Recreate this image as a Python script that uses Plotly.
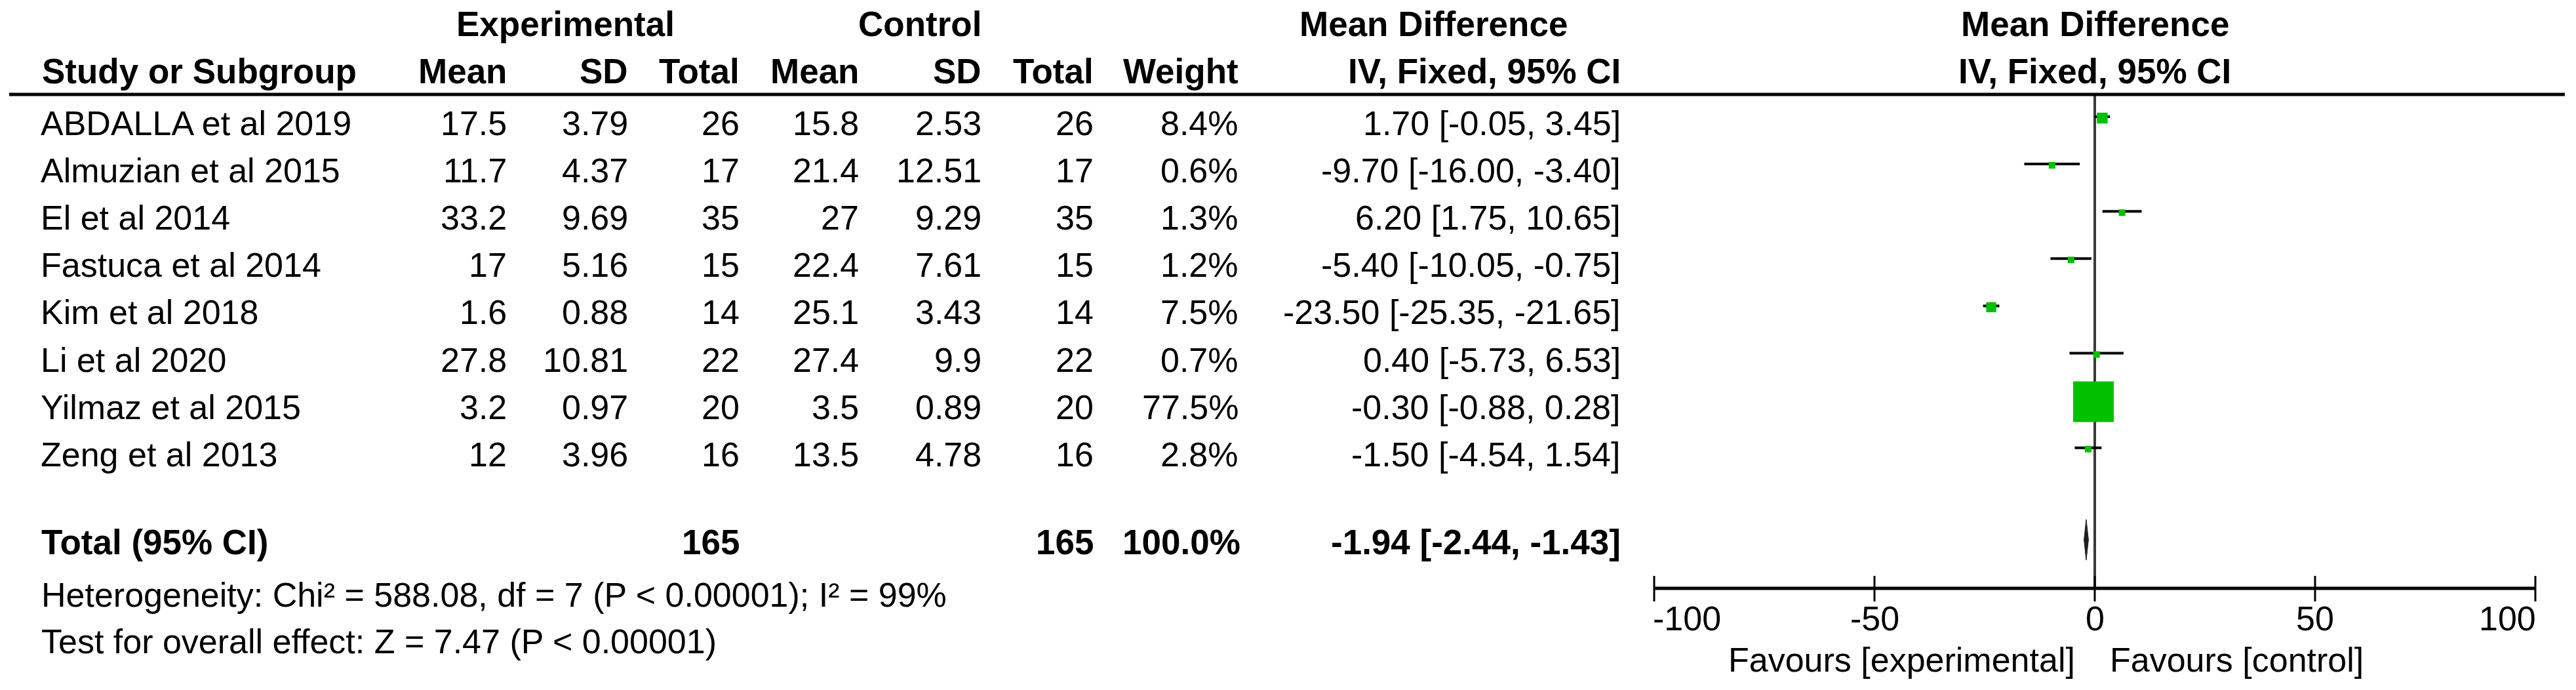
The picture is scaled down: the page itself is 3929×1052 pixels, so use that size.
import plotly.graph_objects as go

# ---------------- data ----------------
studies = ["ABDALLA et al 2019", "Almuzian et al 2015", "El et al 2014", "Fastuca et al 2014",
           "Kim et al 2018", "Li et al 2020", "Yilmaz et al 2015", "Zeng et al 2013"]
exp_mean = [17.5, 11.7, 33.2, 17, 1.6, 27.8, 3.2, 12]
exp_sd = [3.79, 4.37, 9.69, 5.16, 0.88, 10.81, 0.97, 3.96]
exp_n = [26, 17, 35, 15, 14, 22, 20, 16]
ctl_mean = [15.8, 21.4, 27, 22.4, 25.1, 27.4, 3.5, 13.5]
ctl_sd = [2.53, 12.51, 9.29, 7.61, 3.43, 9.9, 0.89, 4.78]
ctl_n = [26, 17, 35, 15, 14, 22, 20, 16]
weight = [8.4, 0.6, 1.3, 1.2, 7.5, 0.7, 77.5, 2.8]
md = [1.70, -9.70, 6.20, -5.40, -23.50, 0.40, -0.30, -1.50]
ci_lo = [-0.05, -16.00, 1.75, -10.05, -25.35, -5.73, -0.88, -4.54]
ci_hi = [3.45, -3.40, 10.65, -0.75, -21.65, 6.53, 0.28, 1.54]

total_exp_n = 165
total_ctl_n = 165
total_weight = 100.0
total_md = -1.94
total_lo = -2.44
total_hi = -1.43

heterogeneity_text = "Heterogeneity: Chi² = 588.08, df = 7 (P < 0.00001); I² = 99%"
overall_text = "Test for overall effect: Z = 7.47 (P < 0.00001)"

axis_ticks = [-100, -50, 0, 50, 100]
axis_tick_labels = ["-100", "-50", "0", "50", "100"]
favours_left = "Favours [experimental]"
favours_right = "Favours [control]"

header_top = ["Experimental", "Control", "Mean Difference", "Mean Difference"]
header_cols = ["Study or Subgroup", "Mean", "SD", "Total", "Mean", "SD", "Total", "Weight",
               "IV, Fixed, 95% CI", "IV, Fixed, 95% CI"]

# ---------------- layout geometry (screen pixels) ----------------
W, H = 3929, 1052
OFF = 8  # default page body margin offsets the figure on screen
FONT = "Liberation Sans, Arial, sans-serif"
FS = 52
FS_B = 53
ROW0, ROW_STEP = 188, 72.1
MARK_DY = -10
Y_HDR1, Y_HDR2, Y_RULE = 36, 108, 144
Y_TOTAL, Y_HET, Y_OVR, Y_FAV = 826, 907, 978, 1006
Y_AXIS, TICK_UP, TICK_DN, Y_TICKLAB = 897, 878, 917, 943
PX_M100, PX_P100 = 2523, 3867
PAD_U = 2.0
pxu = (PX_P100 - PX_M100) / 200.0

COL_STUDY = 62
COL_R = {"em": 775, "es": 960, "en": 1130, "cm": 1312, "cs": 1499, "cn": 1670,
         "w": 1891, "ci": 2474}
CENTER_EXP, CENTER_CTL, CENTER_MD = 862, 1403, 2186

row_y = [ROW0 + i * ROW_STEP for i in range(len(studies))]
line_y = [y + MARK_DY for y in row_y]

fig = go.Figure()

# zero line
fig.add_trace(go.Scatter(x=[0, 0], y=[Y_RULE, Y_AXIS], xaxis="x2", yaxis="y", mode="lines",
                         line=dict(color="#3a3a3a", width=4), hoverinfo="skip", showlegend=False))

# CI lines
cx, cy = [], []
for lo, hi, y in zip(ci_lo, ci_hi, line_y):
    cx += [lo, hi, None]
    cy += [y, y, None]
fig.add_trace(go.Scatter(x=cx, y=cy, xaxis="x2", yaxis="y", mode="lines",
                         line=dict(color="black", width=4), hoverinfo="skip", showlegend=False))

# squares (size grows with weight)
sizes = [max(10, 62 * (w / max(weight)) ** 0.6) for w in weight]
fig.add_trace(go.Scatter(x=md, y=[y + 2 for y in line_y], xaxis="x2", yaxis="y", mode="markers",
                         marker=dict(symbol="square", size=sizes, color="#00c000", opacity=1,
                                     line=dict(width=0)),
                         hoverinfo="skip", showlegend=False))

# total diamond
dh = 31
yd = Y_TOTAL - 3
fig.add_trace(go.Scatter(x=[total_lo, total_md, total_hi, total_md, total_lo],
                         y=[yd, yd - dh, yd, yd + dh, yd],
                         xaxis="x2", yaxis="y", mode="lines", fill="toself",
                         fillcolor="#202020", line=dict(color="#202020", width=1),
                         hoverinfo="skip", showlegend=False))

# axis line
fig.add_trace(go.Scatter(x=[axis_ticks[0], axis_ticks[-1]], y=[Y_AXIS, Y_AXIS], xaxis="x2", yaxis="y",
                         mode="lines", line=dict(color="black", width=5),
                         hoverinfo="skip", showlegend=False))
# ticks crossing the axis line
tx, ty = [], []
for t in axis_ticks:
    tx += [t, t, None]
    ty += [TICK_UP, TICK_DN, None]
fig.add_trace(go.Scatter(x=tx, y=ty, xaxis="x2", yaxis="y", mode="lines",
                         line=dict(color="black", width=3), hoverinfo="skip", showlegend=False))

annotations = []


def ann(x, y, text, xanchor, bold=False, xref="x", xshift=0):
    annotations.append(dict(x=x, y=y, xref=xref, yref="y", text=(f"<b>{text}</b>" if bold else text),
                            showarrow=False, xanchor=xanchor, yanchor="middle", xshift=xshift,
                            font=dict(family=FONT, size=(FS_B if bold else FS), color="black")))


# headers
ann(CENTER_EXP, Y_HDR1, header_top[0], "center", True)
ann(CENTER_CTL, Y_HDR1, header_top[1], "center", True)
ann(CENTER_MD, Y_HDR1, header_top[2], "center", True)
ann(0, Y_HDR1, header_top[3], "center", True, xref="x2")

ann(COL_STUDY, Y_HDR2, header_cols[0], "left", True)
for key, txt in zip(["em", "es", "en", "cm", "cs", "cn", "w", "ci"], header_cols[1:9]):
    ann(COL_R[key], Y_HDR2, txt, "right", True)
ann(0, Y_HDR2, header_cols[9], "center", True, xref="x2")

# study rows
for i, y in enumerate(row_y):
    ann(COL_STUDY - 2, y, studies[i], "left")
    ann(COL_R["em"], y, f"{exp_mean[i]:g}", "right")
    ann(COL_R["es"], y, f"{exp_sd[i]:g}", "right")
    ann(COL_R["en"], y, f"{exp_n[i]}", "right")
    ann(COL_R["cm"], y, f"{ctl_mean[i]:g}", "right")
    ann(COL_R["cs"], y, f"{ctl_sd[i]:g}", "right")
    ann(COL_R["cn"], y, f"{ctl_n[i]}", "right")
    ann(COL_R["w"], y, f"{weight[i]:.1f}%", "right")
    ann(COL_R["ci"], y, f"{md[i]:.2f} [{ci_lo[i]:.2f}, {ci_hi[i]:.2f}]", "right")

# total row
ann(COL_STUDY - 1, Y_TOTAL, "Total (95% CI)", "left", True)
ann(COL_R["en"], Y_TOTAL, f"{total_exp_n}", "right", True)
ann(COL_R["cn"], Y_TOTAL, f"{total_ctl_n}", "right", True)
ann(COL_R["w"] + 3, Y_TOTAL, f"{total_weight:.1f}%", "right", True)
ann(COL_R["ci"], Y_TOTAL, f"{total_md:.2f} [{total_lo:.2f}, {total_hi:.2f}]", "right", True)

ann(COL_STUDY - 1, Y_HET, heterogeneity_text, "left")
ann(COL_STUDY - 1, Y_OVR, overall_text, "left")

# axis tick labels (end labels sit inside the axis extent)
for k, (t, lab) in enumerate(zip(axis_ticks, axis_tick_labels)):
    anchor = "left" if k == 0 else ("right" if k == len(axis_ticks) - 1 else "center")
    ann(t, Y_TICKLAB, lab, anchor, xref="x2", xshift=(-4 if k == 0 else (3 if k == len(axis_ticks) - 1 else 0)))

# favours labels
ann(0, Y_FAV, favours_left, "right", xref="x2", xshift=-28)
ann(0, Y_FAV, favours_right, "left", xref="x2", xshift=21)

fig.update_layout(
    width=W, height=H,
    margin=dict(l=0, r=0, t=0, b=0),
    paper_bgcolor="white", plot_bgcolor="white",
    showlegend=False,
    annotations=annotations,
    shapes=[dict(type="line", xref="x", yref="y", x0=14, x1=3912, y0=Y_RULE, y1=Y_RULE,
                 line=dict(color="black", width=5))],
    xaxis=dict(domain=[0, 1], range=[OFF, W + OFF], visible=False, fixedrange=True),
    yaxis=dict(domain=[0, 1], range=[H + OFF, OFF], visible=False, fixedrange=True),
    xaxis2=dict(domain=[(PX_M100 - PAD_U * pxu - OFF) / W, (PX_P100 + PAD_U * pxu - OFF) / W],
                range=[axis_ticks[0] - PAD_U, axis_ticks[-1] + PAD_U],
                anchor="free", position=0,
                showticklabels=False, ticks="", showline=False, showgrid=False, zeroline=False,
                fixedrange=True),
)

fig.write_html("out.html")
